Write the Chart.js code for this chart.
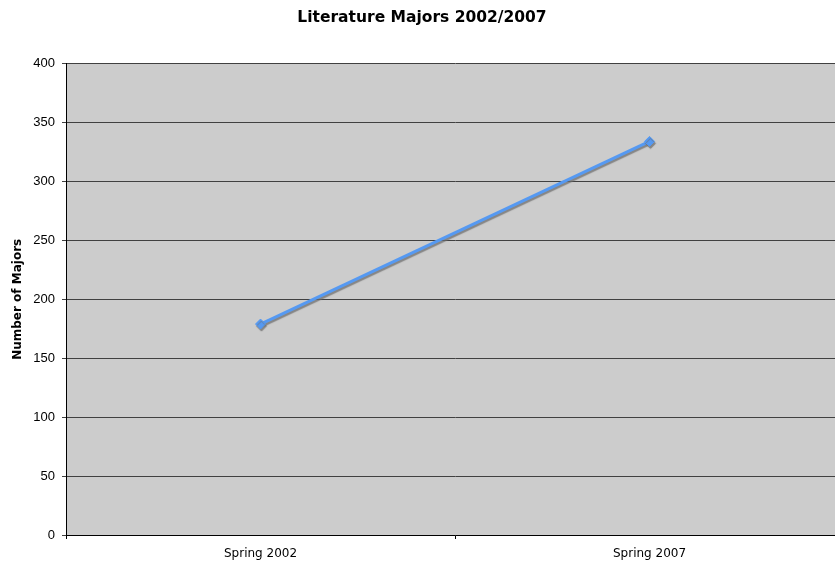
<!DOCTYPE html>
<html>
<head>
<meta charset="utf-8">
<script src="https://cdn.jsdelivr.net/npm/chart.js@4"></script>
<style>
  html, body { margin:0; padding:0; background:#fff; overflow:hidden; }
  #wrap { width:835px; height:562px; overflow:hidden; }
</style>
</head>
<body>
<div id="wrap"><canvas id="chart" width="850" height="562"></canvas></div>
<script>
const TERMS = ['Spring 2002', 'Spring 2007'];
const MAJORS = [179, 334];
const Y_MIN = 0, Y_MAX = 400, Y_STEP = 50;

// gray plot background
const plotBg = {
  id: 'plotBg',
  beforeDraw(chart){
    const a = chart.chartArea, ctx = chart.ctx;
    ctx.save();
    ctx.fillStyle = '#cccccc';
    ctx.fillRect(a.left, a.top, a.right - a.left, a.bottom - a.top);
    ctx.restore();
  }
};

// soft gray shadow under the line
const lineShadow = {
  id: 'lineShadow',
  beforeDatasetDraw(chart){
    const ctx = chart.ctx;
    ctx.save();
    ctx.shadowColor = 'rgba(110,110,110,0.75)';
    ctx.shadowOffsetX = 1;
    ctx.shadowOffsetY = 2;
    ctx.shadowBlur = 1;
  },
  afterDatasetDraw(chart){ chart.ctx.restore(); }
};

new Chart(document.getElementById('chart'), {
  type: 'line',
  data: {
    labels: TERMS,
    datasets: [{
      label: 'Majors',
      data: MAJORS,
      borderColor: '#5599f2',
      backgroundColor: '#5599f2',
      borderWidth: 3,
      pointStyle: 'rectRot',
      pointRadius: 5,
      pointBorderWidth: 1,
      fill: false,
      tension: 0
    }]
  },
  options: {
    responsive: false,
    animation: false,
    layout: { padding: { left: 0, right: 6, top: 0, bottom: 0 } },
    plugins: {
      legend: { display: false },
      tooltip: { enabled: false },
      title: {
        display: true,
        text: 'Literature Majors 2002/2007',
        color: '#000',
        font: { family: 'DejaVu Sans', size: 15.5, weight: 'bold' },
        padding: { top: 9, bottom: 36 }
      }
    },
    scales: {
      x: {
        offset: true,
        grid: { offset: true, drawOnChartArea: false, drawTicks: true, tickLength: 4, color: '#000' },
        border: { color: '#000', width: 1 },
        ticks: { color: '#000', font: { family: 'DejaVu Sans', size: 12 }, padding: 8 },
        afterFit(s){ s.height = 27; s.paddingLeft = 0; s.paddingRight = 0; }
      },
      y: {
        min: Y_MIN, max: Y_MAX,
        grid: { color: '#404040', lineWidth: 1, tickLength: 4 },
        border: { color: '#000', width: 1 },
        ticks: { stepSize: Y_STEP, color: '#000', font: { family: 'Liberation Sans', size: 13 }, padding: 7 },
        title: {
          display: true,
          text: 'Number of Majors',
          color: '#000',
          font: { family: 'DejaVu Sans', size: 12, weight: 'bold' },
          padding: { top: 11, bottom: 0 }
        },
        afterFit(s){ s.width = 66; }
      }
    }
  },
  plugins: [plotBg, lineShadow]
});
</script>
</body>
</html>
